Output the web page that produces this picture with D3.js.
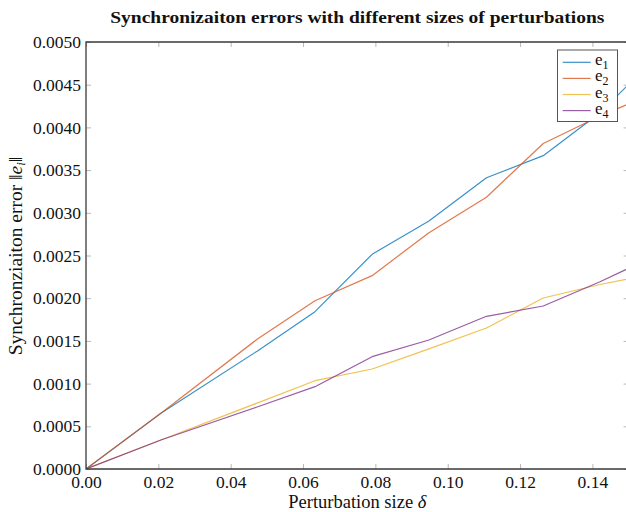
<!DOCTYPE html>
<html>
<head>
<meta charset="utf-8">
<script src="https://cdn.jsdelivr.net/npm/d3@7"></script>
<style>
  html, body { margin: 0; padding: 0; background: #fff; }
  svg { display: block; }
  text { font-family: "Liberation Serif", "DejaVu Serif", serif; fill: #111; }
</style>
</head>
<body>
<svg id="chart" width="626" height="512"></svg>
<script>
// ---- data ----
const seriesNames = ["e1", "e2", "e3", "e4"];
const seriesSubs = ["1", "2", "3", "4"];
const seriesColors = ["#0072BD", "#D95319", "#EDB120", "#7E2F8E"];
const deltas = [0, 0.0207, 0.0473, 0.0633, 0.0791, 0.0948, 0.1107, 0.1264, 0.1421, 0.1578];
const e1 = [0, 0.000652, 0.00138, 0.001842, 0.002514, 0.002904, 0.003410, 0.003669, 0.004172, 0.004830];
const e2 = [0, 0.000652, 0.001519, 0.001971, 0.002264, 0.002767, 0.003182, 0.003812, 0.004133, 0.004415];
const e3 = [0, 0.000340, 0.000772, 0.001034, 0.001171, 0.001407, 0.001651, 0.002002, 0.002160, 0.002290];
const e4 = [0, 0.000340, 0.000726, 0.000964, 0.001315, 0.001511, 0.001788, 0.001909, 0.002193, 0.002506];
const xTicks = [0, 0.02, 0.04, 0.06, 0.08, 0.10, 0.12, 0.14];
const yTicks = [0, 0.0005, 0.0010, 0.0015, 0.0020, 0.0025, 0.0030, 0.0035, 0.0040, 0.0045, 0.0050];
const xDomain = [0, 0.15];
const yDomain = [0, 0.005];
const titleText = "Synchronizaiton errors with different sizes of perturbations";

(function () {
// ---- layout ----
const mLeft = 86, mRight = 628.6, mTop = 42, mBottom = 469;
const svg = d3.select("#chart");
const x = d3.scaleLinear().domain(xDomain).range([mLeft, mRight]);
const y = d3.scaleLinear().domain(yDomain).range([mBottom, mTop]);

svg.append("defs").append("clipPath").attr("id", "clip")
  .append("rect").attr("x", mLeft).attr("y", mTop)
  .attr("width", mRight - mLeft).attr("height", mBottom - mTop);

// axes (ticks inward)
const tickColor = "#b8b8b8";
function styleAxis(g) {
  g.select(".domain").remove();
  g.selectAll(".tick line").attr("stroke", tickColor).attr("stroke-width", 1);
  g.selectAll(".tick text").attr("fill", "#111")
    .style("font-family", "'Liberation Serif', serif").style("font-size", "17.5px");
}
svg.append("g").attr("transform", `translate(0,${mBottom})`)
  .call(d3.axisBottom(x).tickValues(xTicks).tickFormat(d3.format(".2f")).tickSize(-5).tickPadding(7))
  .call(styleAxis);
svg.append("g").attr("transform", `translate(0,${mTop})`)
  .call(d3.axisTop(x).tickValues(xTicks).tickFormat("").tickSize(-5))
  .call(styleAxis);
svg.append("g").attr("transform", `translate(${mLeft},0)`)
  .call(d3.axisLeft(y).tickValues(yTicks).tickFormat(d3.format(".4f")).tickSize(-5).tickPadding(5))
  .call(styleAxis);
svg.append("g").attr("transform", `translate(${mRight},0)`)
  .call(d3.axisRight(y).tickValues(yTicks).tickFormat("").tickSize(-5))
  .call(styleAxis);

// lines
const allSeries = [e1, e2, e3, e4];
const line = d3.line().x((d, i) => x(deltas[i])).y(d => y(d));
svg.append("g").attr("clip-path", "url(#clip)")
  .selectAll("path").data(allSeries).join("path")
  .attr("d", d => line(d))
  .attr("fill", "none")
  .attr("stroke", (d, i) => seriesColors[i])
  .attr("stroke-opacity", 0.78)
  .attr("stroke-width", 1.2)
  .attr("stroke-linejoin", "round");

// frame
svg.append("path")
  .attr("d", `M${mRight},${mTop}H${mLeft}V${mBottom}H${mRight}V${mTop}`)
  .attr("fill", "none").attr("stroke", "#3a3a3a").attr("stroke-width", 1.3);

// title
svg.append("text")
  .attr("x", (mLeft + mRight) / 2).attr("y", 23)
  .attr("text-anchor", "middle")
  .attr("textLength", 494).attr("lengthAdjust", "spacingAndGlyphs")
  .style("font-size", "17.5px").style("font-weight", "bold")
  .text(titleText);

// x label
const xl = svg.append("text")
  .attr("x", (mLeft + mRight) / 2).attr("y", 508)
  .attr("text-anchor", "middle")
  .style("font-size", "18.5px");
xl.append("tspan").text("Perturbation size ");
xl.append("tspan").style("font-style", "italic").text("δ");

// y label
const yl = svg.append("text")
  .attr("transform", `translate(22,256) rotate(-90)`)
  .attr("text-anchor", "middle")
  .style("font-size", "19.5px");
yl.append("tspan").text("Synchronziaiton error ‖");
yl.append("tspan").style("font-style", "italic").text("e");
yl.append("tspan").style("font-style", "italic").style("font-size", "13px").attr("dy", 3).text("i");
yl.append("tspan").attr("dy", -3).text("‖");

// legend
const lg = svg.append("g");
lg.append("rect").attr("x", 557.5).attr("y", 50).attr("width", 60).attr("height", 71.5)
  .attr("fill", "#fff").attr("stroke", "#555").attr("stroke-width", 1);
seriesNames.forEach((name, i) => {
  const yy = 62.3 + i * 16.1;
  lg.append("line").attr("x1", 562.7).attr("x2", 590.7).attr("y1", yy).attr("y2", yy)
    .attr("stroke", seriesColors[i]).attr("stroke-opacity", 0.78).attr("stroke-width", 1.2);
  lg.append("text").attr("x", 595).attr("y", yy + 3).style("font-size", "17px").text("e");
  lg.append("text").attr("x", 602.5).attr("y", yy + 7).style("font-size", "12px").text(seriesSubs[i]);
});
})();
</script>
</body>
</html>
